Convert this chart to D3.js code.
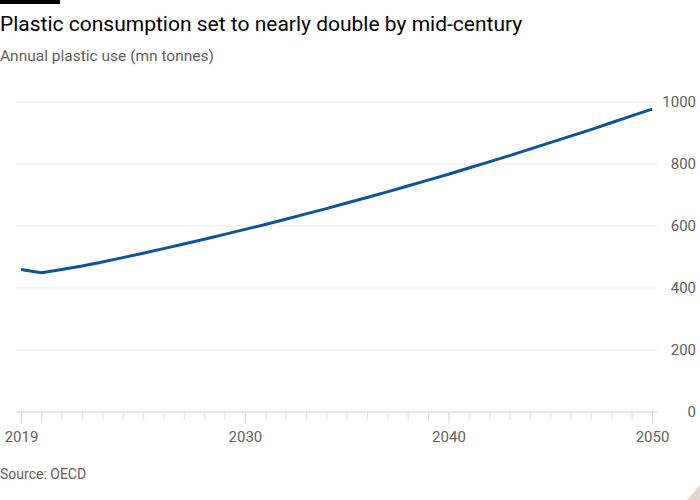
<!DOCTYPE html>
<html>
<head>
<meta charset="utf-8">
<script src="https://cdn.jsdelivr.net/npm/d3@7"></script>
<style>
  html, body { margin: 0; padding: 0; background: #fff; }
  svg { display: block; }
</style>
</head>
<body>
<svg id="chart" width="700" height="500"></svg>
<script>
const years = [2019,2020,2021,2022,2023,2024,2025,2026,2027,2028,2029,2030,2031,2032,2033,2034,2035,2036,2037,2038,2039,2040,2041,2042,2043,2044,2045,2046,2047,2048,2049,2050];
const plasticUse = [460,449,460,471,484,498,512,527,542,557,573,589,605,622,639,656,674,692,710,729,748,767,787,807,827,848,869,890,911,933,955,977];
const yTicks = [0,200,400,600,800,1000];
const xLabelYears = [2019,2030,2040,2050];
const xMajorTicks = [2019,2020,2030,2040,2050];

const title = "Plastic consumption set to nearly double by mid-century";
const subtitle = "Annual plastic use (mn tonnes)";
const source = "Source: OECD";

const font = "Roboto, 'Noto Sans', sans-serif";
const svg = d3.select("#chart");

const x = d3.scaleLinear().domain([2019, 2050]).range([21, 652]);
const y = d3.scaleLinear().domain([0, 1000]).range([412, 102]);

// top bar
svg.append("rect").attr("x", 0).attr("y", 0).attr("width", 60).attr("height", 4).attr("fill", "#000");

svg.append("text").attr("x", 0).attr("y", 31)
  .attr("font-family", font).attr("font-size", 21).attr("fill", "#000")
  .text(title);
svg.append("text").attr("x", 0).attr("y", 61)
  .attr("font-family", font).attr("font-size", 15.5).attr("fill", "#66605c")
  .text(subtitle);

// gridlines
svg.append("g").selectAll("line").data(yTicks.filter(d => d > 0)).join("line")
  .attr("x1", 16).attr("x2", 657)
  .attr("y1", d => y(d)).attr("y2", d => y(d))
  .attr("stroke", "#ede7e1").attr("stroke-width", 1);

// y labels via axis
const yAxis = d3.axisRight(y).tickValues(yTicks).tickSize(0).tickPadding(0).tickFormat(d3.format("d"));
const gy = svg.append("g").attr("transform", "translate(696,0)").call(yAxis);
gy.select(".domain").remove();
gy.selectAll("text").attr("text-anchor", "end")
  .attr("font-family", font).attr("font-size", 15).attr("fill", "#66605c");

// x axis
const gxMinor = svg.append("g").attr("transform", "translate(0,412)")
  .call(d3.axisBottom(x).tickValues(years).tickSize(8).tickFormat(""));
gxMinor.select(".domain").remove();
gxMinor.selectAll("line").attr("stroke", "#e6e0da");

const gxMajor = svg.append("g").attr("transform", "translate(0,412)")
  .call(d3.axisBottom(x).tickValues(xMajorTicks).tickSize(12).tickFormat(""));
gxMajor.select(".domain").remove();
gxMajor.selectAll("line").attr("stroke", "#e3ddd7");

const gxLab = svg.append("g").attr("transform", "translate(0,412)")
  .call(d3.axisBottom(x).tickValues(xLabelYears).tickSize(0).tickPadding(19).tickFormat(d3.format("d")));
gxLab.select(".domain").remove();
gxLab.selectAll("text").attr("font-family", font).attr("font-size", 15).attr("fill", "#66605c");

svg.append("line").attr("x1", 16).attr("x2", 657).attr("y1", 412).attr("y2", 412)
  .attr("stroke", "#e6e0da").attr("stroke-width", 1.5);

// line
const line = d3.line().x((d, i) => x(years[i])).y(d => y(d));
svg.append("path").datum(plasticUse).attr("d", line)
  .attr("fill", "none").attr("stroke", "#0f5499").attr("stroke-width", 3)
  .attr("stroke-linejoin", "round");

svg.append("text").attr("x", 0).attr("y", 479)
  .attr("font-family", font).attr("font-size", 14).attr("fill", "#66605c")
  .text(source);

// corner mark
svg.append("path").attr("d", "M700,485 L700,500 L687,500 Z").attr("fill", "#e0d8ce");
</script>
</body>
</html>
